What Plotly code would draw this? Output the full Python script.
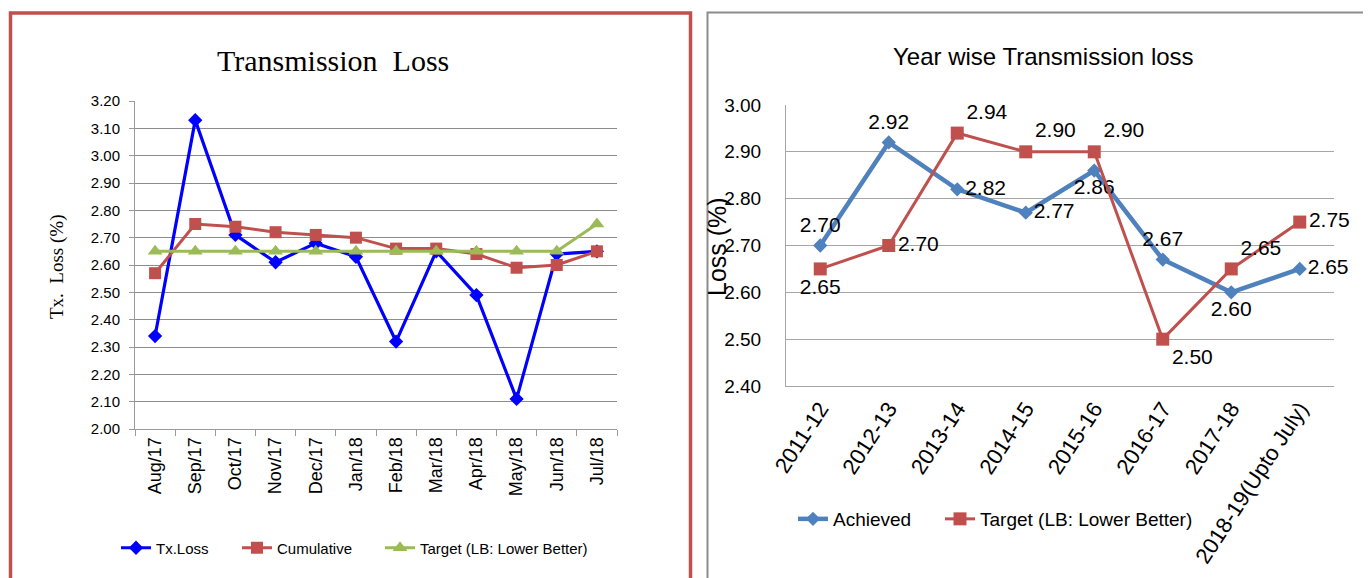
import plotly.graph_objects as go

# ---------------- data ----------------
months = ["Aug/17", "Sep/17", "Oct/17", "Nov/17", "Dec/17", "Jan/18",
          "Feb/18", "Mar/18", "Apr/18", "May/18", "Jun/18", "Jul/18"]
tx_loss = [2.34, 3.13, 2.71, 2.61, 2.68, 2.63, 2.32, 2.65, 2.49, 2.11, 2.64, 2.65]
cumulative = [2.57, 2.75, 2.74, 2.72, 2.71, 2.70, 2.66, 2.66, 2.64, 2.59, 2.60, 2.65]
target_monthly = [2.65, 2.65, 2.65, 2.65, 2.65, 2.65, 2.65, 2.65, 2.65, 2.65, 2.65, 2.75]

years = ["2011-12", "2012-13", "2013-14", "2014-15", "2015-16",
         "2016-17", "2017-18", "2018-19(Upto July)"]
achieved = [2.70, 2.92, 2.82, 2.77, 2.86, 2.67, 2.60, 2.65]
target_yearly = [2.65, 2.70, 2.94, 2.90, 2.90, 2.50, 2.65, 2.75]

W, H = 1371, 578
OFF = 8  # page body margin
SERIF = "Liberation Serif, Times New Roman, serif"
SANS = "Liberation Sans, Arial, sans-serif"


def px_x(p):
    return (p - OFF) / W


def px_y(p):
    return 1 - (p - OFF) / H


fig = go.Figure()

# ---------------- left chart ----------------
fig.add_trace(go.Scatter(
    x=months, y=tx_loss, name="Tx.Loss", mode="lines+markers",
    line=dict(color="#0000FF", width=3.2),
    marker=dict(symbol="diamond", size=11, color="#0000FF"),
    xaxis="x", yaxis="y", legend="legend", legendwidth=76))
fig.add_trace(go.Scatter(
    x=months, y=cumulative, name="Cumulative", mode="lines+markers",
    line=dict(color="#C0504D", width=3),
    marker=dict(symbol="square", size=12, color="#C0504D"),
    xaxis="x", yaxis="y", legend="legend", legendwidth=98))
fig.add_trace(go.Scatter(
    x=months, y=target_monthly, name="Target (LB: Lower Better)", mode="lines+markers",
    line=dict(color="#9BBB59", width=3),
    marker=dict(symbol="triangle-up", size=13, color="#9BBB59"),
    xaxis="x", yaxis="y", legend="legend"))

# ---------------- right chart ----------------
ach_pos = ["top center", "top center", "middle right", "middle right",
           "bottom center", "top center", "bottom center", "middle right"]
tgt_pos = ["bottom center", "middle right", "top right", "top right",
           "top right", "bottom right", "top right", "middle right"]

fig.add_trace(go.Scatter(
    x=years, y=achieved, name="Achieved", mode="lines+markers+text",
    text=[f"{v:.2f}" for v in achieved], textposition=ach_pos,
    textfont=dict(family=SANS, size=21, color="#000000"), cliponaxis=False,
    line=dict(color="#4F81BD", width=4.5),
    marker=dict(symbol="diamond", size=11, color="#4F81BD"),
    xaxis="x2", yaxis="y2", legend="legend2", legendwidth=102))
fig.add_trace(go.Scatter(
    x=years, y=target_yearly, name="Target (LB: Lower Better)", mode="lines+markers+text",
    text=[f"{v:.2f}" for v in target_yearly], textposition=tgt_pos,
    textfont=dict(family=SANS, size=21, color="#000000"), cliponaxis=False,
    line=dict(color="#C0504D", width=3),
    marker=dict(symbol="square", size=13, color="#C0504D"),
    xaxis="x2", yaxis="y2", legend="legend2"))

fig.update_layout(
    width=W, height=H,
    margin=dict(l=0, r=0, t=0, b=0, autoexpand=False),
    paper_bgcolor="white", plot_bgcolor="white",
    xaxis=dict(
        domain=[px_x(135), px_x(617)], type="category",
        range=[-0.5, len(months) - 0.5], automargin=False,
        showgrid=False, showline=True, linecolor="#9A9A9A", linewidth=1,
        ticks="outside", tickson="boundaries", ticklen=6, tickcolor="#9A9A9A",
        tickangle=-90, tickfont=dict(family=SANS, size=18, color="#000000"),
        anchor="y"),
    yaxis=dict(
        domain=[px_y(429), px_y(101)], range=[2.0, 3.2], dtick=0.1,
        tickformat=".2f", showgrid=True, gridcolor="#8C8C8C", gridwidth=1,
        showline=True, linecolor="#9A9A9A", linewidth=1, automargin=False,
        ticks="outside", ticklen=5, tickcolor="#9A9A9A", ticklabelstandoff=6,
        tickfont=dict(family=SANS, size=15, color="#000000"),
        zeroline=False, anchor="x"),
    xaxis2=dict(
        domain=[px_x(786), px_x(1334)], type="category",
        range=[-0.5, len(years) - 0.5], automargin=False,
        showgrid=False, showline=True, linecolor="#A6A6A6", linewidth=1,
        ticks="", tickangle=-57,
        tickfont=dict(family=SANS, size=22, color="#000000"),
        anchor="y2"),
    yaxis2=dict(
        domain=[px_y(386), px_y(105)], range=[2.4, 3.0], dtick=0.1,
        tickformat=".2f", showgrid=True, gridcolor="#A6A6A6", gridwidth=1,
        showline=True, linecolor="#A6A6A6", linewidth=1, automargin=False,
        ticks="", ticklabelstandoff=20,
        tickfont=dict(family=SANS, size=19, color="#000000"),
        zeroline=False, anchor="x2"),
    legend=dict(
        orientation="h", x=px_x(116), xanchor="left", y=px_y(548), yanchor="middle",
        font=dict(family=SANS, size=15, color="#000000"),
        bgcolor="rgba(0,0,0,0)", itemclick=False),
    legend2=dict(
        orientation="h", x=px_x(793), xanchor="left", y=px_y(519), yanchor="middle",
        font=dict(family=SANS, size=19, color="#000000"),
        bgcolor="rgba(0,0,0,0)", itemclick=False),
    showlegend=True,
    annotations=[
        dict(text="Transmission  Loss", x=px_x(333), y=px_y(61), xref="paper", yref="paper",
             showarrow=False, font=dict(family=SERIF, size=30, color="#000000"),
             xanchor="center", yanchor="middle"),
        dict(text="Tx.  Loss (%)", x=px_x(57), y=px_y(267), xref="paper", yref="paper",
             showarrow=False, textangle=-90, font=dict(family=SERIF, size=19, color="#000000"),
             xanchor="center", yanchor="middle"),
        dict(text="Year wise Transmission loss", x=px_x(1043), y=px_y(57), xref="paper",
             yref="paper", showarrow=False,
             font=dict(family=SANS, size=24, color="#000000"),
             xanchor="center", yanchor="middle"),
        dict(text="Loss (%)", x=px_x(717), y=px_y(247), xref="paper", yref="paper",
             showarrow=False, textangle=-90, font=dict(family=SANS, size=25, color="#000000"),
             xanchor="center", yanchor="middle"),
    ],
    shapes=[
        dict(type="rect", xref="paper", yref="paper",
             x0=px_x(10.5), x1=px_x(690.5), y0=px_y(600), y1=px_y(13),
             line=dict(color="#C0504D", width=3.5), fillcolor="rgba(0,0,0,0)", layer="below"),
        dict(type="rect", xref="paper", yref="paper",
             x0=px_x(707.5), x1=px_x(1400), y0=px_y(600), y1=px_y(12.5),
             line=dict(color="#8C8C8C", width=2), fillcolor="rgba(0,0,0,0)", layer="below"),
    ],
)

fig.write_html("out.html")
